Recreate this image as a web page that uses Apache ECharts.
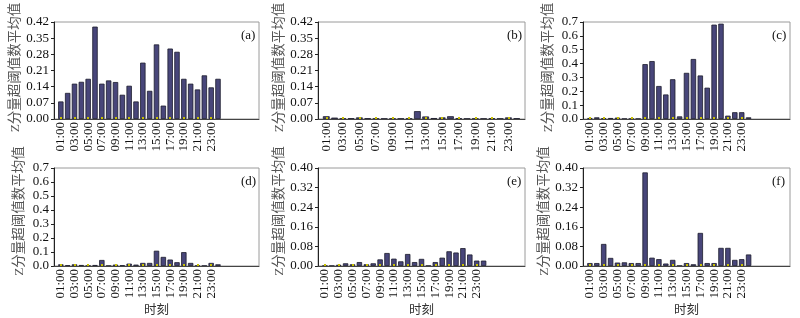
<!DOCTYPE html>
<html>
<head>
<meta charset="utf-8">
<script src="https://cdn.jsdelivr.net/npm/echarts@6/dist/echarts.min.js"></script>
<style>
html,body{margin:0;padding:0;background:#fff;}
#chart{width:800px;height:318px;}
</style>
</head>
<body>
<div id="chart"></div>
<script>
// Hours of the day (categories) and tick-labelled hours
const hours = [1,2,3,4,5,6,7,8,9,10,11,12,13,14,15,16,17,18,19,20,21,22,23,24];
const tickHours = [1,3,5,7,9,11,13,15,17,19,21,23];

// Panel values (Z分量超阈值数平均值)
const valuesA = [0.076,0.113,0.153,0.161,0.174,0.400,0.153,0.167,0.160,0.105,0.144,0.076,0.244,0.122,0.323,0.058,0.305,0.291,0.174,0.153,0.128,0.189,0.137,0.174];
const valuesB = [0.012,0.006,0.002,0.003,0.007,0.003,0.002,0.002,0.002,0.002,0.002,0.034,0.011,0.004,0.007,0.012,0.003,0.002,0.002,0.002,0.003,0.002,0.007,0.003];
const valuesC = [0.007,0.012,0.005,0.007,0.010,0.002,0.002,0.002,0.396,0.418,0.238,0.177,0.287,0.019,0.333,0.433,0.314,0.226,0.681,0.688,0.024,0.049,0.049,0.012];
const valuesD = [0.012,0.005,0.012,0.007,0.002,0.007,0.043,0.002,0.010,0.005,0.017,0.010,0.022,0.022,0.109,0.065,0.046,0.027,0.099,0.022,0.002,0.002,0.022,0.012];
const valuesE = [0.001,0.001,0.005,0.011,0.007,0.016,0.007,0.011,0.027,0.053,0.030,0.019,0.049,0.016,0.029,0.001,0.016,0.034,0.060,0.055,0.073,0.047,0.022,0.022];
const valuesF = [0.012,0.012,0.090,0.033,0.014,0.015,0.012,0.012,0.382,0.034,0.028,0.010,0.025,0.001,0.012,0.007,0.135,0.012,0.012,0.074,0.074,0.025,0.028,0.047];

const panelLabels = ['(a)','(b)','(c)','(d)','(e)','(f)'];
const yNameText = 'Z分量超阈值数平均值';
const xNameText = '时刻';

const panels = [
  {vals: valuesA, grid:{left:54, top:22, width:205, height:97}, xmax:30, ymax:0.42, yint:0.07, dec:2, bw:5.4, row:0},
  {vals: valuesB, grid:{left:318, top:22, width:207, height:97}, xmax:25, ymax:0.42, yint:0.07, dec:2, bw:6.8, row:0},
  {vals: valuesC, grid:{left:583, top:22, width:207, height:97}, xmax:30, ymax:0.7, yint:0.1, dec:1, bw:5.4, row:0},
  {vals: valuesD, grid:{left:54, top:168, width:205, height:98}, xmax:30, ymax:0.7, yint:0.1, dec:1, bw:5.4, row:1},
  {vals: valuesE, grid:{left:318, top:168, width:207, height:98}, xmax:30, ymax:0.40, yint:0.08, dec:2, bw:5.4, row:1},
  {vals: valuesF, grid:{left:583, top:168, width:207, height:98}, xmax:30, ymax:0.40, yint:0.08, dec:2, bw:5.4, row:1}
];

const serif = '"Liberation Serif", "Times New Roman", "Noto Sans CJK SC", serif';
const pad2 = n => (n < 10 ? '0' + n : '' + n) + ':00';

const option = {
  animation: false,
  backgroundColor: '#fff',
  title: [], grid: [], xAxis: [], yAxis: [], series: []
};

panels.forEach((p, i) => {
  option.grid.push(Object.assign({show:true, borderColor:'#9a9a9a', borderWidth:1, containLabel:false}, p.grid));
  option.title.push({
    text: panelLabels[i],
    left: p.grid.left + p.grid.width - 23,
    top: p.grid.top + 2,
    textStyle: {fontFamily: serif, fontSize: 13, fontWeight: 'normal', color: '#111'}
  });
  option.xAxis.push({
    type: 'value', gridIndex: i, min: 0, max: p.xmax, z: 3,
    splitLine: {show:false},
    axisLine: {show:true, lineStyle:{color:'#444', width:1}},
    axisTick: {show:true, inside:true, length:2, customValues: tickHours, lineStyle:{color:'#c8c000', width:2}},
    axisLabel: {
      customValues: tickHours, rotate: 90, margin: 3,
      fontFamily: serif, fontSize: 13, color: '#111',
      formatter: v => pad2(Math.round(v))
    },
    name: p.row === 1 ? xNameText : '',
    nameLocation: 'middle', nameGap: 38,
    nameTextStyle: {fontFamily: serif, fontSize: 12.5, color: '#333'}
  });
  option.yAxis.push({
    type: 'value', gridIndex: i, min: 0, max: p.ymax, interval: p.yint,
    splitLine: {show:false},
    axisLine: {show:true, lineStyle:{color:'#222', width:1}},
    axisTick: {show:true, length:3, lineStyle:{color:'#222'}},
    axisLabel: {
      margin: 5, fontFamily: serif, fontSize: 13, color: '#111',
      formatter: v => v.toFixed(p.dec)
    },
    name: yNameText, nameLocation: 'middle', nameGap: 28,
    nameTextStyle: {fontFamily: serif, fontSize: 13.5, color: '#555', padding: [0,0,0, p.row === 0 ? 6 : 12]}
  });
  option.series.push({
    type: 'bar', xAxisIndex: i, yAxisIndex: i,
    barWidth: p.bw,
    itemStyle: {color: '#48467a', borderColor: '#1c1c2c', borderWidth: 0.8},
    data: hours.map((h, k) => [h, p.vals[k]])
  });
});

const chart = echarts.init(document.getElementById('chart'), null, {renderer:'canvas'});
chart.setOption(option);
</script>
</body>
</html>
